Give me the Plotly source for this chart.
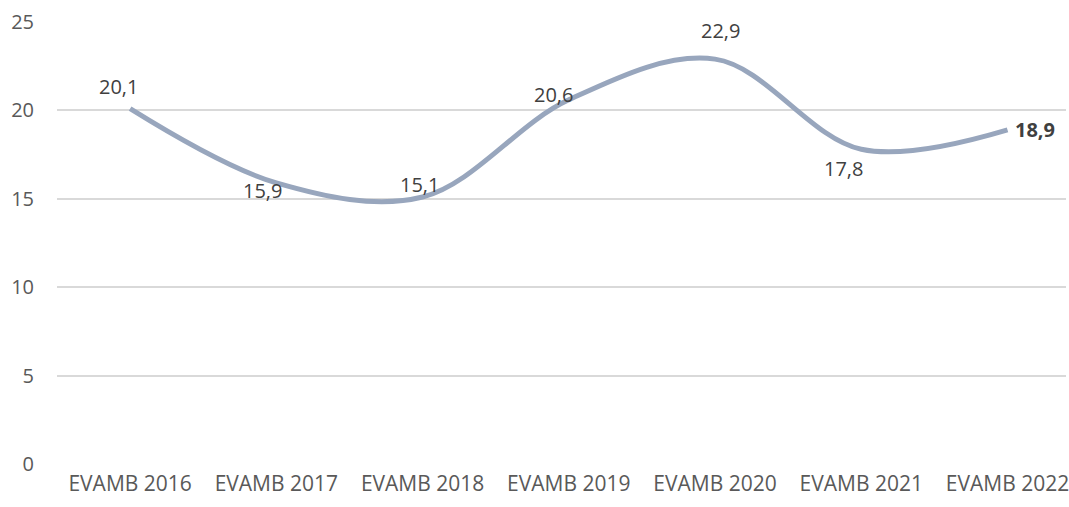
import plotly.graph_objects as go

categories = ["EVAMB 2016", "EVAMB 2017", "EVAMB 2018", "EVAMB 2019",
              "EVAMB 2020", "EVAMB 2021", "EVAMB 2022"]
values = [20.1, 15.9, 15.1, 20.6, 22.9, 17.8, 18.9]
y_ticks = [0, 5, 10, 15, 20, 25]

# pixel offsets for each data label relative to its point
label_dx = [-12, -14, -3, -15, 5, -18, 27]
label_dy = [22, -8, 13, 5, 29, -19, 0]
label_bold = [False, False, False, False, False, False, True]

FONT = "Open Sans"
LINE_COLOR = "#98A6BD"

fig = go.Figure()
fig.add_trace(go.Scatter(
    x=list(range(len(categories))),
    y=values,
    mode="lines",
    line=dict(color=LINE_COLOR, width=5, shape="spline", smoothing=1.0),
    hoverinfo="skip",
    showlegend=False,
))

for i, v in enumerate(values):
    txt = f"{v:.1f}".replace(".", ",")
    if label_bold[i]:
        txt = f"<b>{txt}</b>"
    fig.add_annotation(
        x=i, y=v, text=txt, showarrow=False,
        xshift=label_dx[i], yshift=label_dy[i],
        font=dict(family=FONT, size=20, color="#404040"),
    )

fig.update_layout(
    width=1069, height=507,
    margin=dict(l=57, r=0, t=22, b=43),
    paper_bgcolor="white", plot_bgcolor="white",
    font=dict(family=FONT, size=20, color="#595959"),
    showlegend=False,
)
fig.update_xaxes(
    range=[-0.5, 6.4],
    tickmode="array",
    tickvals=list(range(len(categories))),
    ticktext=categories,
    tickfont=dict(size=21),
    ticklabeloverflow="allow",
    showgrid=False, zeroline=False, showline=False,
    ticks="", ticklabelstandoff=5,
)
fig.update_yaxes(
    range=[0, 25],
    tickmode="array", tickvals=y_ticks,
    showgrid=True, gridcolor="#D9D9D9", gridwidth=1.5,
    zeroline=False, showline=False, ticks="",
    ticklabelstandoff=22,
)

fig.write_html("out.html")
